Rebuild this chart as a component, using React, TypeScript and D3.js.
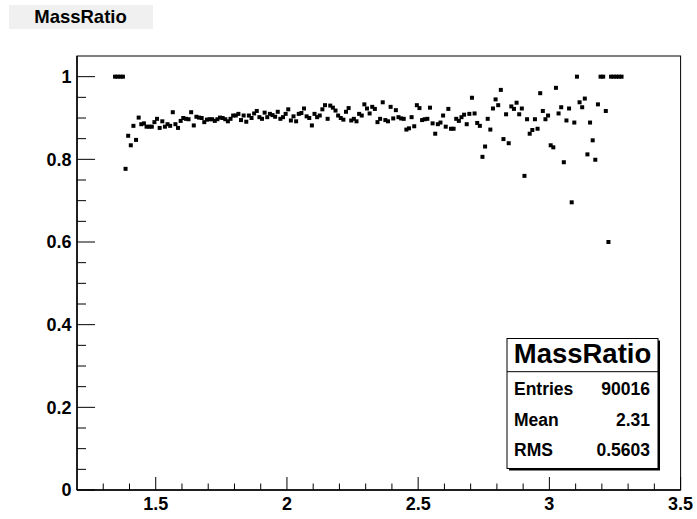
import React from 'react';
import * as d3 from 'd3';

const W = 697;
const H = 519;

const histTitle = 'MassRatio';
const firstBinCenter = 1.345;
const binWidth = 0.01;
const ratioValues: number[] = [
  // 1.345 - 1.375
  1.0, 1.0, 1.0, 1.0,
  // 1.385 - 1.755
  0.777, 0.857, 0.834, 0.881, 0.847, 0.901, 0.885, 0.887, 0.879, 0.879,
  0.879, 0.890, 0.898, 0.876, 0.892, 0.879, 0.885, 0.881, 0.914, 0.885,
  0.876, 0.893, 0.900, 0.898, 0.897, 0.914, 0.882, 0.903, 0.901, 0.900,
  0.890, 0.896, 0.897, 0.897, 0.893, 0.897, 0.901, 0.900,
  // 1.765
  0.897,
  // 1.775 - 2.205
  0.892, 0.898, 0.906, 0.906, 0.910, 0.895, 0.906, 0.891, 0.906, 0.900,
  0.911, 0.917, 0.902, 0.898, 0.913, 0.902, 0.910, 0.907, 0.903, 0.915,
  0.898, 0.902, 0.910, 0.921, 0.894, 0.904, 0.892, 0.910, 0.912, 0.923,
  0.904, 0.900, 0.882, 0.910, 0.902, 0.906, 0.921, 0.931, 0.898, 0.930,
  0.925, 0.918, 0.906, 0.900,
  // 2.215 - 2.645
  0.896, 0.915, 0.924, 0.894, 0.898, 0.892, 0.910, 0.906, 0.933, 0.923,
  0.911, 0.927, 0.922, 0.890, 0.898, 0.938, 0.895, 0.892, 0.927, 0.899,
  0.919, 0.902, 0.899, 0.898, 0.872, 0.875, 0.902, 0.880, 0.931, 0.924,
  0.895, 0.897, 0.898, 0.925, 0.887, 0.862, 0.885, 0.889, 0.906, 0.879,
  0.922, 0.874, 0.874, 0.898,
  // 2.655 - 3.075
  0.893, 0.902, 0.908, 0.885, 0.910, 0.949, 0.911, 0.888, 0.881, 0.806,
  0.831, 0.898, 0.872, 0.923, 0.945, 0.931, 0.968, 0.849, 0.909, 0.839,
  0.928, 0.922, 0.937, 0.909, 0.923, 0.760, 0.897, 0.862, 0.871, 0.897,
  0.874, 0.960, 0.917, 0.897, 0.906, 0.834, 0.829, 0.973, 0.911, 0.926,
  0.793, 0.894, 0.923,
  // 3.085 - 3.275
  0.696, 0.889, 1.0, 0.938, 0.926, 0.947, 0.812, 0.889, 0.846, 0.799,
  0.933, 1.0, 1.0, 0.917, 0.600, 1.0, 1.0, 1.0, 1.0, 1.0,
];

const xMajorTicks = [1.5, 2, 2.5, 3, 3.5];
const xMinorTicks = [1.3, 1.4, 1.6, 1.7, 1.8, 1.9, 2.1, 2.2, 2.3, 2.4, 2.6, 2.7, 2.8, 2.9, 3.1, 3.2, 3.3, 3.4];
const yMajorTicks = [0, 0.2, 0.4, 0.6, 0.8, 1];
const yMinorTicks = [0.05, 0.1, 0.15, 0.25, 0.3, 0.35, 0.45, 0.5, 0.55, 0.65, 0.7, 0.75, 0.85, 0.9, 0.95];

const statsLabels = ['Entries', 'Mean', 'RMS'];
const statsValues = ['90016', '2.31', '0.5603'];

const FONT = '"Liberation Sans", Arial, Helvetica, sans-serif';

export default function App() {
  const left = 77, right = 680.6, top = 56, bottom = 490;
  const x = d3.scaleLinear().domain([1.2, 3.5]).range([left, right]);
  const y = d3.scaleLinear().domain([0, 1.05]).range([bottom, top]);

  const points = ratioValues.map((v, i) => ({ c: firstBinCenter + i * binWidth, v }));
  const ms = 4;

  const box = { x: 507, y: 338.5, w: 151, h: 130 };
  const rowBaselines = [394.5, 425.5, 455.5];

  return (
    <svg width={W} height={H} style={{ position: 'absolute', left: 0, top: 0, background: '#fff' }}
      fontFamily={FONT}>
      <rect x={0} y={0} width={W} height={H} fill="#fff" />
      {/* title */}
      <rect x={9} y={5} width={144} height={24} fill="#f0f0f0" />
      <text x={80.5} y={23} textAnchor="middle" fontWeight="bold" fontSize={18.5}>{histTitle}</text>

      {/* frame */}
      <rect x={left} y={top} width={right - left} height={bottom - top} fill="none" stroke="#000" strokeWidth={1} />

      {/* y ticks */}
      {yMajorTicks.map(t => (
        <g key={'ym' + t}>
          <line x1={left} x2={left + 18} y1={y(t)} y2={y(t)} stroke="#000" />
          <text x={71.5} y={y(t)} dy="0.36em" textAnchor="end" fontWeight="bold" fontSize={18}>{t}</text>
        </g>
      ))}
      {yMinorTicks.map(t => (
        <line key={'yn' + t} x1={left} x2={left + 9} y1={y(t)} y2={y(t)} stroke="#000" />
      ))}

      {/* x ticks */}
      {xMajorTicks.map(t => (
        <g key={'xm' + t}>
          <line x1={x(t)} x2={x(t)} y1={bottom} y2={bottom - 13} stroke="#000" />
          <text x={x(t)} y={510} textAnchor="middle" fontWeight="bold" fontSize={18}>{t}</text>
        </g>
      ))}
      {xMinorTicks.map(t => (
        <line key={'xn' + t} x1={x(t)} x2={x(t)} y1={bottom} y2={bottom - 6.5} stroke="#000" />
      ))}
      <line x1={left} x2={right} y1={bottom} y2={bottom} stroke="#000" strokeWidth={1.5} />
      <line x1={left} x2={left} y1={top} y2={bottom} stroke="#000" strokeWidth={1.5} />

      {/* markers */}
      {points.map((p, i) => (
        <rect key={i} x={x(p.c) - ms / 2} y={y(p.v) - ms / 2} width={ms} height={ms} fill="#000" />
      ))}

      {/* stats box */}
      <rect x={box.x + 2} y={box.y + 2} width={box.w} height={box.h} fill="#000" />
      <rect x={box.x} y={box.y} width={box.w} height={box.h} fill="#fff" stroke="#000" strokeWidth={1} />
      <line x1={box.x} x2={box.x + box.w} y1={371.7} y2={371.7} stroke="#000" />
      <text x={box.x + box.w / 2} y={363} textAnchor="middle" fontWeight="bold" fontSize={27.5}>{histTitle}</text>
      {statsLabels.map((l, i) => (
        <g key={l}>
          <text x={514} y={rowBaselines[i]} fontWeight="bold" fontSize={17.5}>{l}</text>
          <text x={650} y={rowBaselines[i]} textAnchor="end" fontWeight="bold" fontSize={17.5}>{statsValues[i]}</text>
        </g>
      ))}
    </svg>
  );
}
